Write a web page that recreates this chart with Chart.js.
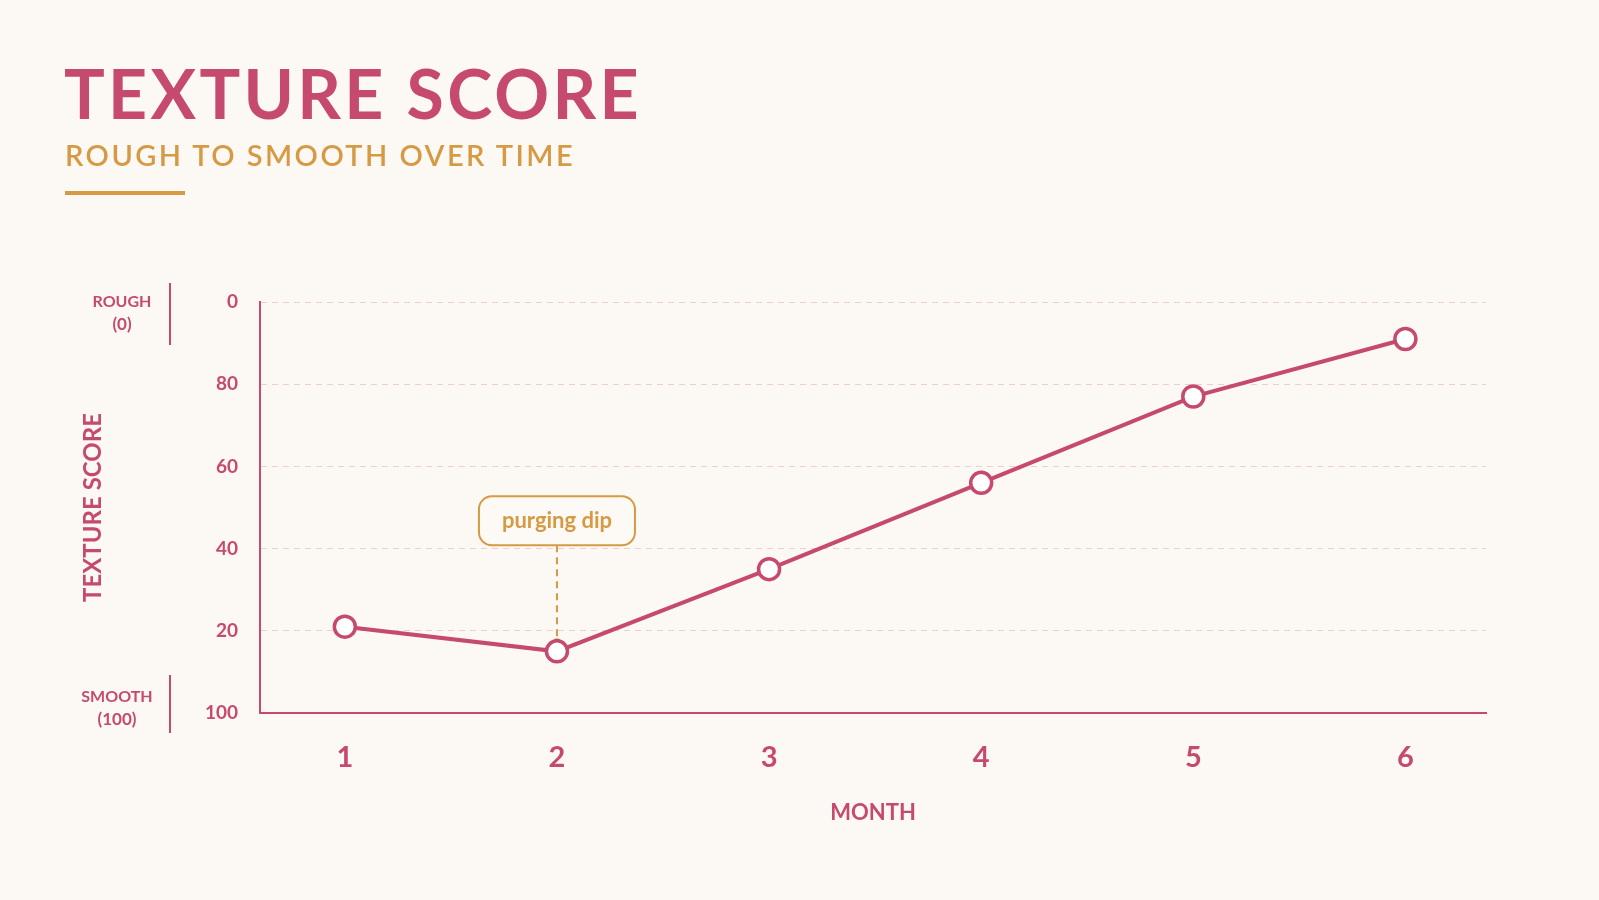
<!DOCTYPE html>
<html>
<head>
<meta charset="utf-8">
<title>Texture Score</title>
<script src="https://cdn.jsdelivr.net/npm/chart.js@4.4.1/dist/chart.umd.min.js"></script>
<style>
  html, body { margin: 0; padding: 0; background: #fcf8f3; }
  #wrap { position: relative; width: 1599px; height: 900px; overflow: hidden; font-family: Lato, "Open Sans", sans-serif; }
  #chart { position: absolute; left: 0; top: 0; }
  .title { position: absolute; left: 64px; top: 59px; font-size: 68px; font-weight: 700; color: #c54a6d; line-height: 1; letter-spacing: 3.3px; }
  .subtitle { position: absolute; left: 65px; top: 140px; font-size: 29px; font-weight: 600; color: #d59a43; line-height: 1; letter-spacing: 2.45px; }
  .rule { position: absolute; left: 65px; top: 191px; width: 120px; height: 4px; background: #d59a43; }
  .endlabel { position: absolute; width: 90px; text-align: center; font-size: 16px; font-weight: 700; color: #c54a6d; line-height: 23px; }
  .endlabel span { font-size: 17px; }
  .endbar { position: absolute; left: 169px; width: 2px; background: #c54a6d; }
</style>
</head>
<body>
<div id="wrap">
  <canvas id="chart" width="1599" height="900"></canvas>
  <div class="title">TEXTURE SCORE</div>
  <div class="subtitle">ROUGH TO SMOOTH OVER TIME</div>
  <div class="rule"></div>
  <div class="endlabel" style="left:77px; top:289px;">ROUGH<br><span>(0)</span></div>
  <div class="endbar" style="top:283px; height:62px;"></div>
  <div class="endlabel" style="left:72px; top:684px;">SMOOTH<br><span>(100)</span></div>
  <div class="endbar" style="top:675px; height:58px;"></div>
</div>
<script>
  // --- data ---
  var months = [1, 2, 3, 4, 5, 6];
  var scores = [21, 15, 35, 56, 77, 91];
  var yTickValues = [0, 20, 40, 60, 80, 100];
  var yTickText = ["100", "20", "40", "60", "80", "0"];
  var notes = [{ month: 2, score: 15, text: "purging dip" }];

  var PINK = "#c54a6d";
  var GOLD = "#d59a43";
  var GRID = "#ebcfd4";

  function roundRect(ctx, x, y, w, h, r) {
    ctx.beginPath();
    ctx.moveTo(x + r, y);
    ctx.lineTo(x + w - r, y);
    ctx.arcTo(x + w, y, x + w, y + r, r);
    ctx.lineTo(x + w, y + h - r);
    ctx.arcTo(x + w, y + h, x + w - r, y + h, r);
    ctx.lineTo(x + r, y + h);
    ctx.arcTo(x, y + h, x, y + h - r, r);
    ctx.lineTo(x, y + r);
    ctx.arcTo(x, y, x + r, y, r);
    ctx.closePath();
  }

  // callout drawn under the line, box above the point
  var noteLayer = {
    id: "noteLayer",
    beforeDatasetsDraw: function (chart) {
      var ctx = chart.ctx;
      var xs = chart.scales.x, ys = chart.scales.y;
      notes.forEach(function (n) {
        var px = xs.getPixelForValue(n.month);
        var py = ys.getPixelForValue(n.score);
        var boxH = 49, boxW = 156;
        var boxBottom = py - 106;
        ctx.save();
        ctx.strokeStyle = GOLD;
        ctx.lineWidth = 2;
        ctx.setLineDash([7, 5]);
        ctx.beginPath();
        ctx.moveTo(px, boxBottom);
        ctx.lineTo(px, py - 8);
        ctx.stroke();
        ctx.setLineDash([]);
        ctx.fillStyle = GOLD;
        ctx.beginPath();
        ctx.arc(px, py - 9, 4, 0, Math.PI * 2);
        ctx.fill();
        roundRect(ctx, px - boxW / 2, boxBottom - boxH, boxW, boxH, 13);
        ctx.fillStyle = "#fdfaf5";
        ctx.fill();
        ctx.lineWidth = 2;
        ctx.strokeStyle = GOLD;
        ctx.stroke();
        ctx.fillStyle = GOLD;
        ctx.font = "700 22px Lato, sans-serif";
        ctx.textAlign = "center";
        ctx.textBaseline = "middle";
        ctx.fillText(n.text, px, boxBottom - boxH / 2);
        ctx.restore();
      });
    }
  };

  new Chart(document.getElementById("chart"), {
    type: "line",
    data: {
      datasets: [{
        data: months.map(function (m, i) { return { x: m, y: scores[i] }; }),
        borderColor: PINK,
        borderWidth: 4,
        pointRadius: 10.5,
        pointBorderWidth: 3.5,
        pointBackgroundColor: "#ffffff",
        pointBorderColor: PINK,
        tension: 0
      }]
    },
    options: {
      responsive: false,
      devicePixelRatio: 1,
      animation: false,
      layout: { padding: { left: 0, right: 113, top: 302, bottom: 0 } },
      plugins: { legend: { display: false }, tooltip: { enabled: false } },
      scales: {
        x: {
          type: "linear",
          min: 0.6,
          max: 6.38,
          afterBuildTicks: function (scale) {
            scale.ticks = months.map(function (m) { return { value: m }; });
          },
          afterFit: function (scale) { scale.height = 187; },
          grid: { display: false, drawTicks: false },
          border: { display: true, color: PINK, width: 2 },
          ticks: { color: PINK, padding: 27, font: { family: "Lato", size: 29, weight: "700" } },
          title: { display: true, text: "MONTH", color: PINK, padding: { top: 0, bottom: 74 }, font: { family: "Lato", size: 22, weight: "700" } }
        },
        y: {
          min: 0,
          max: 100,
          afterBuildTicks: function (scale) {
            scale.ticks = yTickValues.map(function (v) { return { value: v }; });
          },
          afterFit: function (scale) { scale.width = 260; },
          grid: { color: GRID, lineWidth: 1, drawTicks: false },
          border: { display: true, color: PINK, width: 2, dash: [6, 5] },
          ticks: {
            color: PINK,
            padding: 22,
            font: { family: "Lato", size: 19, weight: "700" },
            callback: function (value) {
              var i = yTickValues.indexOf(value);
              return i >= 0 ? yTickText[i] : "";
            }
          },
          title: { display: true, text: "TEXTURE SCORE", color: PINK, padding: { top: 79, bottom: 0 }, font: { family: "Lato", size: 24, weight: "700" } }
        }
      }
    },
    plugins: [noteLayer]
  });
</script>
</body>
</html>
